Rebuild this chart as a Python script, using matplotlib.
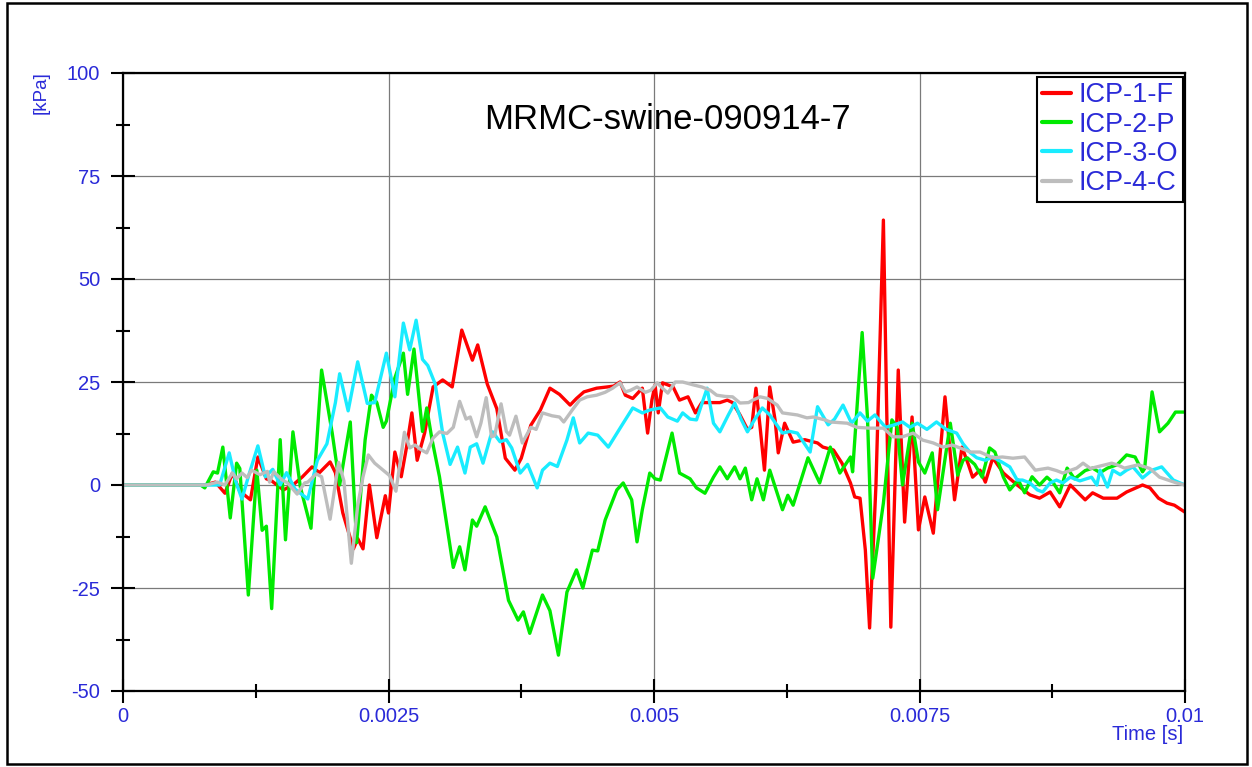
import numpy as np
import matplotlib
matplotlib.use("Agg")
import matplotlib.pyplot as plt
from matplotlib.patches import Rectangle
from matplotlib.ticker import MultipleLocator

plt.rcParams['font.family'] = ['Liberation Sans', 'DejaVu Sans']

title = "MRMC-swine-090914-7"
series_names = ["ICP-1-F", "ICP-2-P", "ICP-3-O", "ICP-4-C"]
x_tick_values = [0, 0.0025, 0.005, 0.0075, 0.01]
x_tick_labels = ["0", "0.0025", "0.005", "0.0075", "0.01"]
y_tick_values = [-50, -25, 0, 25, 50, 75, 100]
y_tick_labels = ["-50", "-25", "0", "25", "50", "75", "100"]

# ICP-1-F (red): time in ms, pressure in kPa
red_t_ms = [0.00, 0.77, 0.87, 0.96, 1.03, 1.10, 1.20, 1.27, 1.35, 1.40, 1.51, 1.60, 1.69, 1.78, 1.85,
            1.95, 2.00, 2.07, 2.17, 2.21, 2.26, 2.32, 2.39, 2.47, 2.50, 2.56, 2.62, 2.67, 2.72, 2.77,
            2.84, 2.92, 3.01, 3.10, 3.19, 3.29, 3.34, 3.43, 3.52, 3.60, 3.69, 3.75, 3.84, 3.93, 4.02,
            4.11, 4.21, 4.27, 4.34, 4.46, 4.56, 4.62, 4.68, 4.73, 4.80, 4.89, 4.94, 4.98, 5.01, 5.04,
            5.08, 5.18, 5.24, 5.32, 5.39, 5.45, 5.55, 5.62, 5.69, 5.74, 5.81, 5.88, 5.92, 5.96, 6.00,
            6.04, 6.09, 6.14, 6.17, 6.23, 6.31, 6.42, 6.54, 6.59, 6.69, 6.77, 6.85, 6.89, 6.94, 6.99,
            7.03, 7.09, 7.16, 7.19, 7.23, 7.30, 7.36, 7.43, 7.49, 7.55, 7.63, 7.74, 7.83, 7.90, 7.96,
            8.00, 8.07, 8.12, 8.19, 8.29, 8.42, 8.54, 8.63, 8.73, 8.82, 8.92, 9.06, 9.13, 9.23, 9.36,
            9.45, 9.60, 9.67, 9.75, 9.83, 9.90, 10.0]
red_kpa = [0, 0, 0.7, -2, 2.9, -1.5, -3.6, 6.8, 1.5, 1.0, -1.2, 0, 2, 4.4, 3,
           5.6, 3, -6.8, -15.5, -13, -15.5, 0, -12.8, -2.6, -6.8, 8, 2, 9.2, 17.5, 6,
           12.6, 23.8, 25.5, 23.8, 37.6, 30.3, 34, 24.5, 18.5, 6.5, 3.6, 6.5, 14.5, 18.2, 23.5,
           22, 19.4, 21, 22.6, 23.5, 23.8, 24, 25, 21.8, 21, 23.5, 12.6, 20.6, 24.3, 17.5,
           24.8, 23.8, 20.6, 21.4, 17.5, 20, 20, 20, 20.6, 20, 17, 13.5, 14, 23.5, 13.8,
           3.6, 23.8, 15.8, 7.8, 15, 10.4, 11, 10.2, 9.2, 8.5, 5.3, 0.5, -2.9, -3.2, -15.8,
           -34.7, 0, 64.3, 20, -34.5, 27.9, -9, 16.5, -10.9, -2.9, -11.7, 21.4, -3.6, 9.2, 5,
           1.9, 3.6, 0.7, 6.6, 2.9, 0, -2.4, -3.2, -1.7, -5.3, 0, -3.6, -1.9, -3.2, -3.2,
           -1.7, 0, -0.7, -3.2, -4.4, -4.9, -6.6]

# ICP-2-P (green)
green_t_ms = [0.00, 0.73, 0.77, 0.85, 0.89, 0.94, 1.01, 1.07, 1.10, 1.18, 1.26, 1.31, 1.35, 1.40, 1.48,
              1.53, 1.60, 1.67, 1.77, 1.87, 1.97, 2.04, 2.14, 2.20, 2.28, 2.34, 2.39, 2.45, 2.48, 2.56,
              2.64, 2.68, 2.74, 2.82, 2.86, 2.91, 2.98, 3.11, 3.17, 3.22, 3.29, 3.33, 3.41, 3.52, 3.63,
              3.72, 3.77, 3.83, 3.95, 4.02, 4.10, 4.18, 4.27, 4.33, 4.42, 4.47, 4.54, 4.65, 4.71, 4.79,
              4.84, 4.89, 4.96, 5.01, 5.06, 5.17, 5.24, 5.34, 5.40, 5.48, 5.56, 5.62, 5.69, 5.76, 5.81,
              5.86, 5.92, 5.97, 6.03, 6.09, 6.21, 6.26, 6.31, 6.45, 6.56, 6.66, 6.75, 6.85, 6.87, 6.96,
              7.01, 7.06, 7.16, 7.24, 7.29, 7.34, 7.43, 7.49, 7.55, 7.62, 7.67, 7.79, 7.86, 7.91, 7.95,
              8.02, 8.09, 8.16, 8.21, 8.29, 8.35, 8.43, 8.49, 8.56, 8.63, 8.70, 8.76, 8.82, 8.89, 8.96,
              9.06, 9.13, 9.20, 9.27, 9.36, 9.45, 9.53, 9.60, 9.62, 9.69, 9.76, 9.84, 9.91, 10.0]
green_kpa = [0, 0, -0.7, 3.2, 2.9, 9.2, -8, 5.3, 4, -26.7, 3.6, -11, -10, -30, 11,
             -13.3, 12.9, -0.5, -10.5, 27.9, 12.6, 0, 15.3, -14, 11, 21.8, 20, 14, 15.5, 26,
             32, 22, 33, 13, 18.7, 11, 2, -20, -15, -20.6, -8.5, -10, -5.3, -12.6, -28,
             -32.8, -30.8, -36, -26.7, -30.5, -41.3, -26, -20.6, -25, -15.8, -16, -8.5, -1.2, 0.5, -3.6,
             -13.8, -6, 2.9, 1.5, 1.2, 12.6, 2.9, 1.5, -0.7, -2, 1.9, 4.4, 1.5, 4.4, 1.5,
             4.1, -3.6, 1.5, -3.6, 3.6, -6, -2.5, -4.9, 6.6, 0.5, 9.2, 2.9, 6.8, 3.2, 37,
             16.5, -22.6, -4.4, 15.8, 14, 0, 15, 5.6, 2.9, 7.8, -6, 15, 2.4, 6, 6.6,
             5, 1.9, 9, 8, 1.9, -1.2, 1.2, -1.9, 2, 0, 1.9, 0.5, -1.9, 4.1, 1.5,
             3.5, 4.1, 3, 4.1, 4.9, 7.3, 6.8, 3.2, 4, 22.6, 12.9, 15, 17.7, 17.7]

# ICP-3-O (cyan)
cyan_t_ms = [0.00, 0.82, 0.91, 1.00, 1.06, 1.12, 1.18, 1.27, 1.34, 1.41, 1.48, 1.54, 1.62, 1.74, 1.83,
             1.92, 2.00, 2.04, 2.12, 2.21, 2.30, 2.37, 2.48, 2.56, 2.64, 2.70, 2.76, 2.82, 2.87, 2.94,
             3.01, 3.08, 3.15, 3.22, 3.27, 3.33, 3.39, 3.46, 3.48, 3.55, 3.61, 3.66, 3.74, 3.81, 3.90,
             3.95, 4.02, 4.09, 4.18, 4.24, 4.30, 4.38, 4.47, 4.57, 4.70, 4.80, 4.89, 4.96, 5.06, 5.13,
             5.22, 5.27, 5.34, 5.40, 5.50, 5.56, 5.62, 5.70, 5.76, 5.82, 5.88, 5.95, 6.02, 6.09, 6.21,
             6.28, 6.35, 6.47, 6.54, 6.64, 6.70, 6.78, 6.86, 6.94, 7.01, 7.08, 7.18, 7.25, 7.34, 7.41,
             7.48, 7.57, 7.66, 7.75, 7.85, 7.91, 7.98, 8.04, 8.12, 8.19, 8.28, 8.35, 8.42, 8.47, 8.54,
             8.61, 8.66, 8.73, 8.79, 8.85, 8.92, 9.01, 9.12, 9.17, 9.20, 9.27, 9.32, 9.39, 9.45, 9.51,
             9.60, 9.69, 9.78, 9.89, 10.0]
cyan_kpa = [0, 0, 0, 7.8, 1, -3.4, 2, 9.5, 2, 3.8, 0, 3, -1, -3.4, 6,
            10, 20, 27, 18, 29.9, 19.8, 20, 32, 21.4, 39.3, 32.8, 40, 30.5, 29, 24.5,
            12.6, 5, 9.2, 2.9, 9.2, 10, 5.3, 11.7, 12.9, 10.5, 11, 9, 2.9, 5, -0.7,
            3.6, 5.3, 4.5, 10.9, 16.3, 10.2, 12.6, 12.1, 9.2, 14.6, 18.7, 17.5, 18.2, 18.7, 16.5,
            15.5, 17.5, 16, 15.8, 23.5, 15, 12.9, 17, 19.9, 16, 12.9, 16, 18.7, 17, 12.6,
            13, 12.6, 8, 19, 14.6, 16, 19.4, 15, 17.5, 15.5, 17, 14, 14.5, 15.3, 14,
            15, 13.5, 15.3, 13.5, 12.6, 10, 7.8, 6.6, 6, 6.8, 5.5, 4.4, 1.2, 1.2, 0.5,
            -1.2, -1.7, 0.5, 1.2, 0.5, 1.9, 1, 1.9, 0, 3.6, -0.5, 3.6, 2.5, 3.6, 4.4,
            1.7, 3.6, 4.4, 1.2, 0]

# ICP-4-C (grey)
grey_t_ms = [0.00, 0.79, 0.89, 0.96, 1.03, 1.07, 1.12, 1.17, 1.21, 1.29, 1.36, 1.38, 1.42, 1.50, 1.55,
             1.64, 1.71, 1.74, 1.82, 1.87, 1.95, 2.03, 2.08, 2.15, 2.21, 2.26, 2.31, 2.37, 2.43, 2.51,
             2.57, 2.65, 2.70, 2.75, 2.81, 2.86, 2.92, 2.98, 3.05, 3.11, 3.17, 3.23, 3.27, 3.33, 3.37,
             3.42, 3.47, 3.50, 3.56, 3.61, 3.64, 3.70, 3.76, 3.84, 3.89, 3.95, 4.04, 4.11, 4.15, 4.23,
             4.30, 4.37, 4.46, 4.54, 4.61, 4.68, 4.73, 4.78, 4.84, 4.92, 4.97, 5.03, 5.08, 5.13, 5.20,
             5.27, 5.37, 5.45, 5.53, 5.59, 5.67, 5.74, 5.81, 5.89, 5.93, 6.00, 6.07, 6.16, 6.21, 6.35,
             6.44, 6.50, 6.61, 6.66, 6.82, 6.91, 7.03, 7.16, 7.25, 7.34, 7.44, 7.53, 7.63, 7.72, 7.81,
             7.88, 7.98, 8.07, 8.19, 8.28, 8.38, 8.49, 8.59, 8.71, 8.79, 8.85, 8.98, 9.04, 9.11, 9.17,
             9.31, 9.37, 9.43, 9.56, 9.67, 9.76, 9.84, 9.92, 10.0]
grey_kpa = [0, 0, 0.7, 0, 2.9, 1.5, 2.9, 1.8, 3.6, 2.5, 3.3, 0.7, 3.2, 1.2, 0.5,
            -2.2, 0.5, 0.7, 2.7, 2, -8.3, 5.5, 1, -19, -5, 2, 7.3, 5.3, 4, 2.3,
            -1.5, 12.8, 9, 9.7, 8.5, 7.8, 11.4, 12.9, 12.5, 14, 20.3, 16, 16.5, 11.7, 15,
            21.2, 11.7, 12, 19.7, 13, 12.1, 16.7, 10.2, 14, 13.5, 17.5, 16.8, 16.5, 15.3, 18.2,
            20.6, 21.4, 21.8, 22.5, 23.5, 24.8, 22.6, 23, 23.8, 22.5, 23, 24.8, 23.5, 22.3, 25,
            25, 24.3, 23.8, 23, 21.8, 21.5, 21.4, 19.9, 20, 20.6, 21.4, 21, 19.4, 17.5, 17,
            16.3, 16.5, 15.8, 15.3, 15, 14, 13.8, 13.8, 11.7, 11.7, 12.6, 10.9, 10.2, 9.2, 9.7,
            9, 8, 8, 6.6, 6.8, 6.5, 6.8, 3.6, 4.1, 3.5, 2.9, 4.1, 5.3, 4, 4.4,
            5.3, 4.8, 4.1, 4.9, 4, 1.9, 1.2, 0.5, 0]

series = [
    (red_t_ms, red_kpa, '#ff0000'),
    (green_t_ms, green_kpa, '#00ea00'),
    (cyan_t_ms, cyan_kpa, '#19ecff'),
    (grey_t_ms, grey_kpa, '#bdbdbd'),
]

W, H = 1252, 767
fig = plt.figure(figsize=(W / 100, H / 100), dpi=100)
ax = fig.add_axes([123 / W, 1 - 691 / H, (1185 - 123) / W, (691 - 73) / H])

for (t_ms, vals, col), name in zip(series, series_names):
    ax.plot(np.array(t_ms) * 1e-3, vals, color=col, lw=2.4, label=name,
            solid_joinstyle='round', solid_capstyle='round')

ax.set_xlim(0, 0.01)
ax.set_ylim(-50, 100)
ax.set_xticks(x_tick_values)
ax.set_xticklabels(x_tick_labels)
ax.set_yticks(y_tick_values)
ax.set_yticklabels(y_tick_labels)
ax.xaxis.set_minor_locator(MultipleLocator(0.00125))
ax.yaxis.set_minor_locator(MultipleLocator(12.5))
ax.grid(True, which='major', color='#7a7a7a', lw=0.9)
ax.set_axisbelow(True)

blue = '#2a2ad8'
ax.tick_params(which='major', direction='inout', length=17, width=1.5, color='black',
               labelcolor=blue, labelsize=14.5)
ax.tick_params(axis='y', which='major', pad=8)
ax.tick_params(axis='x', which='major', pad=3)
ax.tick_params(which='minor', direction='inout', length=10, width=1.5, color='black')
for s in ax.spines.values():
    s.set_color('black')
    s.set_linewidth(1.6)

ax.text(0.513, 0.925, title, transform=ax.transAxes, ha='center', va='center',
        fontsize=25, color='black')

leg = ax.legend(loc='upper right', bbox_to_anchor=((1183 - 123) / 1062, (691 - 77) / 618),
                borderaxespad=0, fontsize=19.5, frameon=True, fancybox=False,
                handlelength=1.05, handletextpad=0.28, labelspacing=0.12, borderpad=0.2)
leg.get_frame().set_edgecolor('black')
leg.get_frame().set_linewidth(1.5)
leg.get_frame().set_alpha(1)
for txt in leg.get_texts():
    txt.set_color(blue)
for ln in leg.get_lines():
    ln.set_linewidth(3)

fig.text(41 / W, 1 - 93 / H, "[kPa]", rotation=90, ha='center', va='center',
         fontsize=13.5, color=blue)
fig.text(1183 / W, 1 - 734 / H, "Time [s]", ha='right', va='center',
         fontsize=14.5, color=blue)

fig.patches.append(Rectangle((7 / W, 3 / H), (1247 - 7) / W, (764 - 3) / H,
                             transform=fig.transFigure, fill=False,
                             edgecolor='black', lw=1.8))

fig.savefig('out.png', dpi=100)
